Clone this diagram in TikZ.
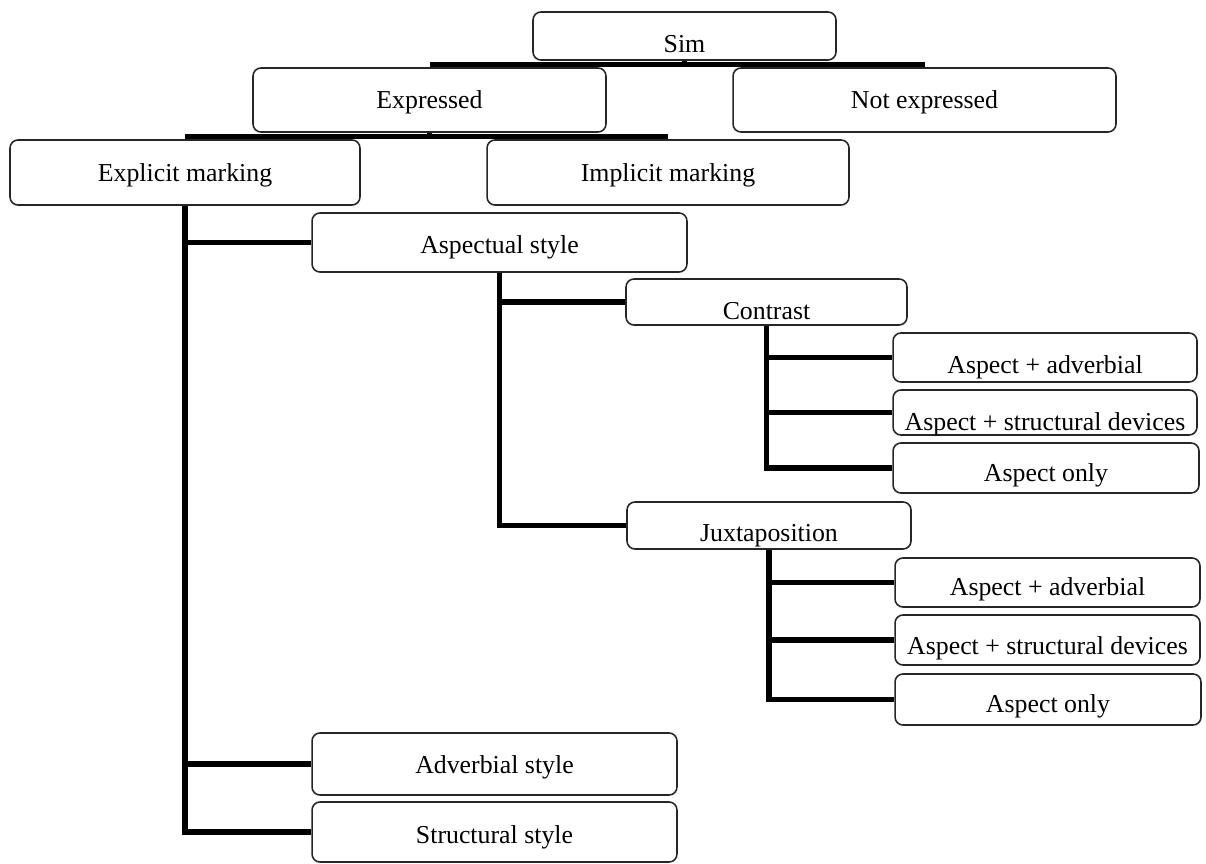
\documentclass[tikz,border=0pt]{standalone}
\usepackage{fontspec}
\setmainfont{Liberation Serif}
\usepackage{tikz}
\usetikzlibrary{positioning,calc}
\tikzset{
  box/.style  = {draw=black!85, line width=0.9pt, rounded corners=4.5pt,
                 inner sep=0pt, text depth=0pt,
                 font=\fontsize{14.7pt}{17pt}\selectfont},
  drop/.style = {text height=#1},
  link/.style = {line width=3.1pt, black},
}

\begin{document}
\begin{tikzpicture}[x=0.02cm, y=-0.02cm]

    \useasboundingbox (0,0) rectangle (1206,864);

    % --- TOP LEVELS ---
    \node[box, drop=0.66cm, minimum width=6.06cm, minimum height=0.96cm] (sim) at (684.5, 36) {Sim};
    \node[box, drop=0.36cm, minimum width=7.06cm, minimum height=1.28cm] (expressed) at (429.5, 100) {Expressed};
    \node[box, drop=0.36cm, minimum width=7.66cm, minimum height=1.28cm] (notexp) at (924.5, 100) {Not expressed};
    \node[box, drop=0.38cm, minimum width=7.00cm, minimum height=1.30cm] (explicit) at (185, 172.5) {Explicit marking};
    \node[box, drop=0.38cm, minimum width=7.24cm, minimum height=1.30cm] (implicit) at (668, 172.5) {Implicit marking};

    % --- STYLES ---
    \node[box, drop=0.46cm, minimum width=7.50cm, minimum height=1.18cm] (aspectual) at (499.5, 242.5) {Aspectual style};
    \node[box, drop=0.36cm, minimum width=7.30cm, minimum height=1.24cm] (adverbial) at (494.5, 764) {Adverbial style};
    \node[box, drop=0.44cm, minimum width=7.30cm, minimum height=1.20cm] (structural) at (494.5, 832) {Structural style};

    % --- CONTRAST BRANCH ---
    \node[box, drop=0.72cm, minimum width=5.62cm, minimum height=0.92cm] (contrast) at (766.5, 302) {Contrast};
    \node[box, drop=0.64cm, minimum width=6.08cm, minimum height=0.98cm] (cadv) at (1045, 357.5) {Aspect + adverbial};
    \node[box, drop=0.72cm, minimum width=6.08cm, minimum height=0.90cm] (cstr) at (1045, 412.5) {Aspect + structural devices};
    \node[box, drop=0.56cm, minimum width=6.12cm, minimum height=1.00cm] (conly) at (1046, 468) {Aspect only};

    % --- JUXTAPOSITION BRANCH ---
    \node[box, drop=0.64cm, minimum width=5.68cm, minimum height=0.94cm] (juxt) at (769, 525.5) {Juxtaposition};
    \node[box, drop=0.52cm, minimum width=6.10cm, minimum height=0.98cm] (jadv) at (1047.5, 582.5) {Aspect + adverbial};
    \node[box, drop=0.60cm, minimum width=6.10cm, minimum height=1.00cm] (jstr) at (1047.5, 640) {Aspect + structural devices};
    \node[box, drop=0.52cm, minimum width=6.12cm, minimum height=1.02cm] (jonly) at (1048, 699.5) {Aspect only};

    % --- CONNECTORS ---
    \draw[link] ([yshift=1.4pt]expressed.north) -- ([yshift=1.4pt]notexp.north);
    \draw[link] (sim.south) -- ([yshift=1.4pt]sim.south |- expressed.north);
    \draw[link] ([yshift=1.4pt]explicit.north) -- ([yshift=1.4pt]implicit.north);
    \draw[link] (expressed.south) -- ([yshift=1.4pt]expressed.south |- explicit.north);

    \foreach \dst in {aspectual, adverbial, structural}
        \draw[link] (explicit.south) |- (\dst.west);
    \foreach \dst in {contrast, juxt}
        \draw[link] (aspectual.south) |- (\dst.west);
    \foreach \dst in {cadv, cstr, conly}
        \draw[link] (contrast.south) |- (\dst.west);
    \foreach \dst in {jadv, jstr, jonly}
        \draw[link] (juxt.south) |- (\dst.west);

\end{tikzpicture}
\end{document}
